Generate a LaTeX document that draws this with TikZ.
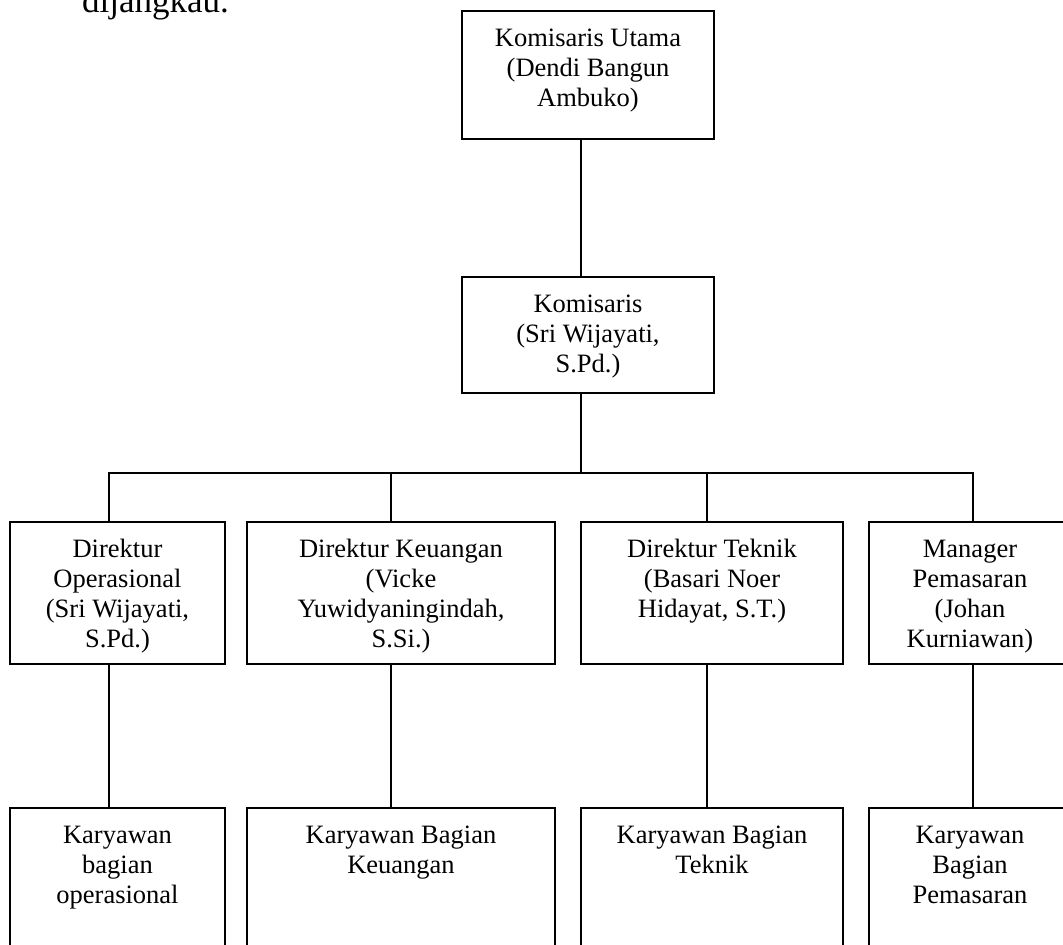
\documentclass[tikz,border=0pt]{standalone}
\usepackage{fontspec}
\setmainfont{Liberation Serif}
\begin{document}
\begin{tikzpicture}[x=1pt,y=-1pt,
  box/.style={draw=black, line width=1.6pt, inner sep=0pt, outer sep=0pt, anchor=north west},
  txt/.style={inner sep=0pt, anchor=north, align=center, font=\fontsize{26.5}{30}\selectfont, yshift=-14pt},
  conn/.style={draw=black, line width=1.6pt}]
\useasboundingbox (0,0) rectangle (1063,945);
\clip (0,0) rectangle (1063,945);
\fill[white] (0,0) rectangle (1063,945);
\node[anchor=base west, inner sep=0pt, font=\fontsize{35}{40}\selectfont] (cap) at (82,12) {dijangkau.};
% top boxes
\node[box, minimum width=252, minimum height=128] (ku) at (462,11) {};
\node[txt] (kut) at (ku.north) {\strut Komisaris Utama\\(Dendi Bangun\\Ambuko)};
\node[box, minimum width=252, minimum height=116] (km) at (462,277) {};
\node[txt] (kmt) at (km.north) {\strut Komisaris\\(Sri Wijayati,\\S.Pd.)};
% third row
\node[box, minimum width=215, minimum height=142] (d1) at (10,522) {};
\node[box, minimum width=308, minimum height=142] (d2) at (247,522) {};
\node[box, minimum width=262, minimum height=142] (d3) at (581,522) {};
\node[box, minimum width=202, minimum height=142] (d4) at (869,522) {};
\node[txt] (d1t) at (d1.north) {\strut Direktur\\Operasional\\(Sri Wijayati,\\S.Pd.)};
\node[txt] (d2t) at (d2.north) {\strut Direktur Keuangan\\(Vicke\\Yuwidyaningindah,\\S.Si.)};
\node[txt] (d3t) at (d3.north) {\strut Direktur Teknik\\(Basari Noer\\Hidayat, S.T.)};
\node[txt] (d4t) at (d4.north) {\strut Manager\\Pemasaran\\(Johan\\Kurniawan)};
% bottom row
\node[box, minimum width=215, minimum height=160] (k1) at (10,808) {};
\node[box, minimum width=308, minimum height=160] (k2) at (247,808) {};
\node[box, minimum width=262, minimum height=160] (k3) at (581,808) {};
\node[box, minimum width=202, minimum height=160] (k4) at (869,808) {};
\node[txt] (k1t) at (k1.north) {\strut Karyawan\\bagian\\operasional};
\node[txt] (k2t) at (k2.north) {\strut Karyawan Bagian\\Keuangan};
\node[txt] (k3t) at (k3.north) {\strut Karyawan Bagian\\Teknik};
\node[txt] (k4t) at (k4.north) {\strut Karyawan\\Bagian\\Pemasaran};
% connectors
\coordinate (j0) at (581,473);
\coordinate (j1) at (109,473);
\coordinate (j2) at (391,473);
\coordinate (j3) at (707,473);
\coordinate (j4) at (973,473);
\draw[conn] (ku.south -| j0) -- (km.north -| j0);
\draw[conn] (km.south -| j0) -- (j0);
\draw[conn, line cap=rect] (j1) -- (j4);
\draw[conn] (j1) -- (d1.north -| j1);
\draw[conn] (j2) -- (d2.north -| j2);
\draw[conn] (j3) -- (d3.north -| j3);
\draw[conn] (j4) -- (d4.north -| j4);
\draw[conn] (d1.south -| j1) -- (k1.north -| j1);
\draw[conn] (d2.south -| j2) -- (k2.north -| j2);
\draw[conn] (d3.south -| j3) -- (k3.north -| j3);
\draw[conn] (d4.south -| j4) -- (k4.north -| j4);
\end{tikzpicture}
\end{document}
